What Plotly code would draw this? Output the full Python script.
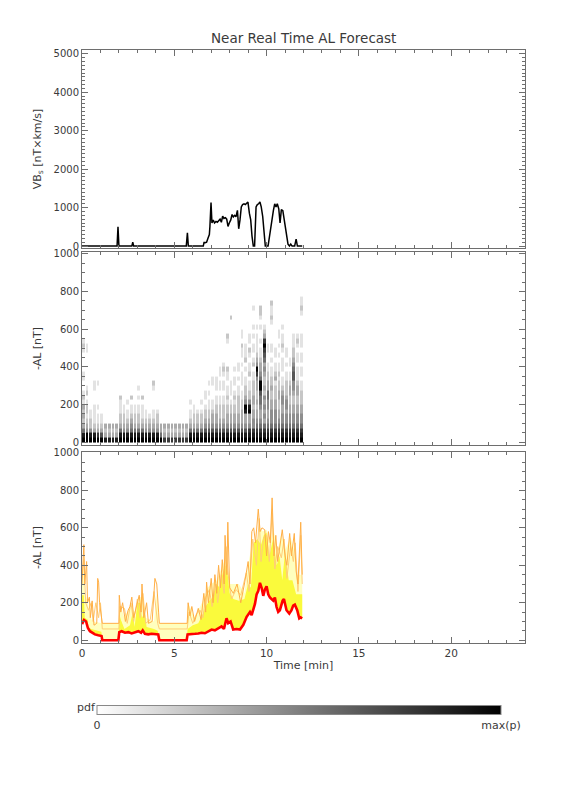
import plotly.graph_objects as go

TITLE = "Near Real Time AL Forecast"
X_TICKS = [0, 5, 10, 15, 20]

# ---- top panel: VBs time series ----
VBS_T = [0, 1.90, 1.95, 2.00, 2.70, 2.75, 2.80, 5.65, 5.71, 5.76,
         6.57, 6.61, 6.68, 6.75, 6.82, 6.90, 6.93, 6.99, 7.04, 7.11,
         7.18, 7.26, 7.33, 7.40, 7.48, 7.55, 7.62, 7.69, 7.77, 7.84,
         7.91, 7.98, 8.06, 8.13, 8.20, 8.27, 8.34, 8.42, 8.49, 8.56,
         8.63, 8.70, 8.78, 8.85, 8.92, 8.99, 9.07, 9.14, 9.21, 9.28,
         9.35, 9.43, 9.50, 9.57, 9.64, 9.71, 9.79, 9.86, 9.93, 10.08,
         10.15, 10.22, 10.29, 10.37, 10.44, 10.51, 10.58, 10.66, 10.73, 10.80,
         10.88, 10.95, 11.02, 11.09, 11.16, 11.24, 11.31, 11.38, 11.52, 11.60,
         11.67, 11.93]
VBS_V = [0, 0, 500, 0, 0, 100, 0, 0, 345, 0,
         0, 93, 90, 100, 200, 300, 510, 1130, 600, 680,
         600, 640, 620, 660, 700, 620, 780, 720, 740, 700,
         510, 600, 680, 820, 760, 800, 760, 930, 450, 680,
         1020, 1080, 1100, 1080, 1120, 1145, 850, 680, 260, 0,
         0, 1020, 1080, 1100, 1145, 1020, 770, 430, 0, 0,
         260, 510, 725, 930, 1100, 1020, 1100, 970, 600, 950,
         920, 720, 500, 220, 50, 0, 50, 0, 0, 180,
         0, 0]

# ---- middle panel: pdf of forecast ensemble ----
# time bins of 0.2 min starting at 0; AL bins of 25 nT starting at 0
# each string: relative density level (0 = none ... 9 = max) per AL bin, bottom first
PDF_TIME_START = 0.0
PDF_TIME_STEP = 0.2
PDF_AL_START = 0.0
PDF_AL_STEP = 25.0
PDF_LEVEL_MAX = 9
PDF_COLUMNS = [
    "98532323121001100001210",
    "99432122102100000001100",
    "9842211",
    "9832111100011",
    "9732110100001",
    "963211",
    "8323", "8323", "8323", "8323",
    "9853221112",
    "98432211",
    "984321101",
    "9854321102",
    "98532211",
    "985322110101",
    "9853211102",
    "98432110",
    "984321",
    "9843211000012",
    "9843221",
    "9533",
    "7323", "7323", "7323", "7323", "7323", "7323", "7323",
    "985321101",
    "98532211",
    "9853221",
    "985322101",
    "98643221011",
    "9864322110101",
    "98643321100011",
    "98643322110111",
    "9864322211011011",
    "98643222110110121",
    "98643322121101120000012",
    "986433221011100000000000002",
    "9864332212101101",
    "98643322221101011",
    "986433322110111010112011",
    "986433894322110102111",
    "98743398422110211012011",
    "98744332332221102101101010001",
    "9875433232233479432111101",
    "98754334556995433211010010122",
    "9875343434232234356797321",
    "987543344553322110011",
    "987544433223221101011000012112",
    "98754443322213211011",
    "987543322332212110101011",
    "9875443344321101110121101",
    "98754434432221101011",
    "987544332233211011",
    "98754433223446654322111",
    "98754433223321110110121",
    "9875443322211011011011100001211",
]

# ---- bottom panel: forecast ensemble ----
RED_T = [0, 0.11, 0.22, 0.32, 0.43, 0.54, 0.70, 0.88, 1.06, 1.10,
         1.97, 2.02, 2.15, 2.33, 2.51, 2.69, 2.87, 3.05, 3.2, 3.29,
         3.41, 3.59, 3.77, 3.95, 4.13, 4.19, 5.67, 5.72, 5.94, 6.12,
         6.30, 6.48, 6.66, 6.84, 7.02, 7.20, 7.38, 7.56, 7.69, 7.83,
         7.92, 8.05, 8.19, 8.37, 8.56, 8.74, 8.92, 9.10, 9.19, 9.28,
         9.37, 9.46, 9.55, 9.64, 9.73, 9.82, 9.91, 10.0, 10.09, 10.18,
         10.36, 10.45, 10.54, 10.63, 10.72, 10.87, 10.94, 11.08, 11.23, 11.35,
         11.44, 11.53, 11.66, 11.77, 11.84, 11.93]
RED_V = [86, 108, 100, 65, 48, 40, 31, 26, 22, 0,
         0, 43, 48, 40, 43, 36, 43, 48, 40, 53,
         34, 31, 34, 31, 31, 0, 0, 31, 31, 34,
         36, 40, 37, 48, 57, 53, 65, 74, 60, 117,
         91, 100, 57, 60, 57, 82, 125, 151, 134, 168,
         194, 245, 263, 306, 280, 237, 271, 288, 245, 228,
         211, 228, 177, 151, 160, 211, 220, 160, 142, 160,
         185, 190, 160, 117, 122, 117]

BRIGHT_T = [0, 0.1, 0.15, 0.3, 0.35, 0.5, 1.05, 1.1, 1.97, 2.02,
            2.1, 2.3, 2.6, 2.75, 2.85, 3.0, 3.15, 3.25, 3.4, 3.5,
            3.9, 4.1, 4.19, 5.67, 5.72, 6.0, 6.3, 6.5, 6.7, 6.9,
            7.1, 7.3, 7.45, 7.6, 7.75, 7.85, 8.0, 8.2, 8.5, 8.8,
            9.0, 9.15, 9.3, 9.5, 9.7, 9.85, 10.0, 10.15, 10.35, 10.55,
            10.7, 10.85, 11.0, 11.2, 11.4, 11.6, 11.93]
BRIGHT_V = [240, 240, 120, 110, 70, 60, 45, 0, 0, 140,
            110, 60, 80, 150, 70, 200, 200, 120, 150, 70,
            60, 50, 0, 0, 60, 80, 90, 130, 180, 210,
            230, 300, 280, 350, 400, 390, 250, 220, 210, 220,
            300, 280, 520, 540, 510, 560, 575, 450, 540, 400,
            450, 320, 470, 320, 320, 245, 245]

PALE_T = [0, 0.1, 0.15, 0.3, 0.45, 0.6, 1.1, 2.0, 2.02, 2.3,
          2.7, 2.9, 3.05, 3.3, 3.45, 3.9, 4.05, 4.19, 5.67, 5.75,
          6.1, 6.5, 6.8, 7.0, 7.3, 7.6, 7.8, 8.0, 8.5, 8.8,
          9.0, 9.2, 9.45, 9.6, 9.8, 10.0, 10.2, 10.35, 10.6, 10.8,
          11.0, 11.3, 11.5, 11.65, 11.93]
PALE_V = [380, 380, 250, 210, 120, 100, 90, 90, 200, 120,
          200, 120, 230, 230, 120, 100, 250, 90, 90, 200,
          120, 200, 280, 300, 320, 400, 450, 300, 300, 250,
          400, 510, 510, 600, 580, 590, 520, 600, 480, 570,
          480, 550, 480, 350, 350]

ORANGE_A_T = [0, 0.05, 0.1, 0.15, 0.25, 0.3, 0.4, 0.45, 0.55, 0.65,
              0.8, 0.85, 0.9, 0.95, 1.05, 1.1, 2.0, 2.02, 2.1, 2.2,
              2.35, 2.5, 2.6, 2.7, 2.8, 2.95, 3.1, 3.2, 3.25, 3.35,
              3.5, 3.6, 3.8, 3.95, 4.05, 4.15, 4.19, 5.7, 5.75, 5.85,
              5.95, 6.1, 6.3, 6.45, 6.6, 6.7, 6.75, 6.85, 7.0, 7.1,
              7.2, 7.3, 7.4, 7.5, 7.6, 7.7, 7.75, 7.85, 7.9, 8.0,
              8.2, 8.4, 8.6, 8.8, 9.0, 9.1, 9.2, 9.3, 9.4, 9.55,
              9.65, 9.75, 9.9, 10.0, 10.1, 10.2, 10.3, 10.4, 10.5, 10.6,
              10.75, 10.85, 11.0, 11.1, 11.25, 11.35, 11.5, 11.6, 11.7, 11.85,
              11.93]
ORANGE_A_V = [300, 400, 510, 300, 420, 200, 230, 120, 210, 80,
              90, 330, 310, 200, 100, 90, 90, 240, 150, 200,
              100, 160, 180, 230, 120, 180, 240, 150, 300, 120,
              200, 90, 100, 330, 300, 150, 90, 90, 200, 130,
              180, 100, 170, 110, 250, 150, 310, 200, 330, 200,
              350, 250, 400, 280, 430, 300, 560, 350, 630, 280,
              250, 300, 200, 300, 420, 300, 580, 600, 520, 700,
              580, 600, 590, 450, 580, 520, 760, 450, 560, 420,
              520, 590, 450, 400, 570, 450, 570, 370, 300, 630,
              350]

ORANGE_B_T = [0, 0.1, 0.2, 0.35, 0.5, 0.6, 0.75, 0.9, 1.0, 1.1,
              2.0, 2.05, 2.3, 2.45, 2.65, 2.8, 3.0, 3.15, 3.3, 3.45,
              3.7, 3.9, 4.1, 4.19, 5.7, 5.8, 6.0, 6.2, 6.4, 6.55,
              6.7, 6.9, 7.05, 7.25, 7.35, 7.55, 7.7, 7.8, 7.95, 8.1,
              8.35, 8.6, 8.9, 9.05, 9.25, 9.45, 9.6, 9.7, 9.85, 10.0,
              10.15, 10.3, 10.45, 10.6, 10.8, 10.95, 11.1, 11.3, 11.45, 11.55,
              11.7, 11.85, 11.93]
ORANGE_B_V = [350, 430, 200, 160, 200, 100, 200, 120, 200, 60,
              60, 180, 170, 90, 200, 100, 220, 120, 250, 90,
              110, 260, 90, 60, 60, 150, 90, 140, 160, 120,
              230, 270, 180, 300, 200, 350, 250, 500, 320, 220,
              270, 240, 360, 260, 540, 400, 650, 420, 550, 560,
              420, 680, 380, 500, 440, 540, 330, 500, 420, 520,
              260, 560, 300]

# ---------------------------------------------------------------
TEXT = "#3a3a3a"
AXC = "#6e6e6e"
FONT = "DejaVu Sans"

fig = go.Figure()

# top panel
fig.add_trace(go.Scatter(x=VBS_T, y=VBS_V, mode="lines",
                         line=dict(color="black", width=1.5),
                         xaxis="x", yaxis="y", showlegend=False))

# middle panel heatmap
n_rows = max(32, max(len(c) for c in PDF_COLUMNS))
z = []
for i in range(n_rows):
    row = []
    for col in PDF_COLUMNS:
        s = col.ljust(n_rows, "0")
        v = int(s[i])
        row.append(v if v > 0 else None)
    z.append(row)

fig.add_trace(go.Heatmap(
    z=z,
    x0=PDF_TIME_START + PDF_TIME_STEP / 2, dx=PDF_TIME_STEP,
    y0=PDF_AL_START + PDF_AL_STEP / 2, dy=PDF_AL_STEP,
    zmin=0, zmax=PDF_LEVEL_MAX,
    colorscale=[[0, "white"], [1, "black"]],
    xgap=1,
    xaxis="x2", yaxis="y2",
    showscale=True,
    colorbar=dict(
        orientation="h",
        x=0.49, xanchor="center",
        y=-0.1246, yanchor="middle",
        len=404, lenmode="pixels",
        thickness=9, thicknessmode="pixels",
        outlinecolor="#888888", outlinewidth=1,
        tickvals=[0, PDF_LEVEL_MAX], ticktext=["0", "max(p)"],
        ticks="", tickfont=dict(family=FONT, size=11, color=TEXT),
        xpad=0, ypad=0,
    ),
))

# bottom panel fills
fig.add_trace(go.Scatter(x=PALE_T + RED_T[::-1], y=PALE_V + RED_V[::-1],
                         mode="lines", fill="toself", fillcolor="rgb(255,255,190)",
                         line=dict(width=0), xaxis="x3", yaxis="y3", showlegend=False))
fig.add_trace(go.Scatter(x=BRIGHT_T + RED_T[::-1], y=BRIGHT_V + RED_V[::-1],
                         mode="lines", fill="toself", fillcolor="rgb(250,250,60)",
                         line=dict(width=0), xaxis="x3", yaxis="y3", showlegend=False))
fig.add_trace(go.Scatter(x=ORANGE_B_T, y=ORANGE_B_V, mode="lines",
                         line=dict(color="rgb(255,205,120)", width=1),
                         xaxis="x3", yaxis="y3", showlegend=False))
fig.add_trace(go.Scatter(x=ORANGE_A_T, y=ORANGE_A_V, mode="lines",
                         line=dict(color="rgb(255,175,70)", width=1),
                         xaxis="x3", yaxis="y3", showlegend=False))
fig.add_trace(go.Scatter(x=RED_T, y=RED_V, mode="lines",
                         line=dict(color="rgb(255,0,0)", width=2.6),
                         xaxis="x3", yaxis="y3", showlegend=False))


def xax(anchor, labels):
    return dict(range=[0, 24], domain=[0, 1], anchor=anchor, automargin=False,
                showline=True, linecolor=AXC, linewidth=1, mirror="ticks",
                ticks="inside", ticklen=6, tickcolor=AXC, tickwidth=1,
                tickmode="array", tickvals=X_TICKS,
                showticklabels=labels,
                minor=dict(ticks="inside", ticklen=3, dtick=1, tick0=0, tickcolor=AXC),
                showgrid=False, zeroline=False,
                tickfont=dict(family=FONT, size=10.5, color=TEXT))


def yax(anchor, rng, dtick, minor, dom, title):
    return dict(range=rng, domain=dom, anchor=anchor, automargin=False,
                showline=True, linecolor=AXC, linewidth=1, mirror="ticks",
                ticks="inside", ticklen=6, tickcolor=AXC, tickwidth=1,
                tick0=0, dtick=dtick,
                minor=dict(ticks="inside", ticklen=3, dtick=minor, tick0=0, tickcolor=AXC),
                showgrid=False, zeroline=False,
                tickfont=dict(family=FONT, size=10, color=TEXT),
                title=dict(text=title, font=dict(family=FONT, size=11, color=TEXT), standoff=9))


# the page body adds an 8 px offset, so margins are reduced accordingly
fig.update_layout(
    width=560, height=776,
    margin=dict(l=74, r=43, t=42, b=141, autoexpand=False),
    paper_bgcolor="white", plot_bgcolor="white",
    font=dict(family=FONT, color=TEXT, size=11),
    xaxis=xax("y", False),
    xaxis2=xax("y2", False),
    xaxis3={**xax("y3", True),
            "title": dict(text="Time [min]", font=dict(family=FONT, size=11, color=TEXT), standoff=2)},
    yaxis=yax("x", [-50, 5100], 1000, 100, [0.6661, 1.0], "VB<sub>s</sub> [nT×km/s]"),
    yaxis2=yax("x2", [-15, 1010], 200, 50, [0.3339, 0.6594], "-AL [nT]"),
    yaxis3=yax("x3", [-15, 1005], 200, 50, [0.0, 0.3221], "-AL [nT]"),
    annotations=[
        dict(text=TITLE, x=0.5, y=1.0, xref="paper", yref="paper",
             xanchor="center", yanchor="bottom", yshift=2, showarrow=False,
             font=dict(family=FONT, size=13.5, color=TEXT)),
        dict(text="pdf", x=0.011, y=-0.108, xref="paper", yref="paper",
             xanchor="center", yanchor="middle", showarrow=False,
             font=dict(family=FONT, size=11, color=TEXT)),
    ],
)

fig.write_html("out.html")
